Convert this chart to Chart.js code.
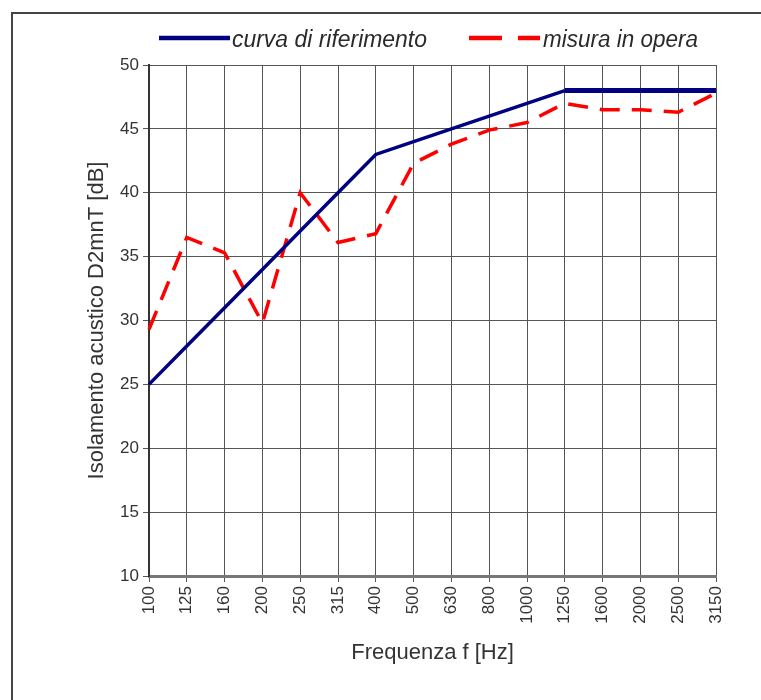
<!DOCTYPE html>
<html>
<head>
<meta charset="utf-8">
<script src="https://cdn.jsdelivr.net/npm/chart.js@4/dist/chart.umd.min.js"></script>
<style>
  html, body { margin: 0; padding: 0; background: #fff; }
  #wrap { position: relative; width: 761px; height: 700px; }
  #frame { position: absolute; left: 11px; top: 12px; right: -5px; bottom: -5px;
           border-top: 2px solid #444; border-left: 2px solid #444; pointer-events: none; }
</style>
</head>
<body>
<div id="wrap">
  <canvas id="chart" width="761" height="700"></canvas>
  <div id="frame"></div>
</div>
<script>
// frequency bands (Hz)
const frequencies = ["100", "125", "160", "200", "250", "315", "400", "500",
  "630", "800", "1000", "1250", "1600", "2000", "2500", "3150"];

// reference curve (dB)
const curvaRiferimento = [25, 28, 31, 34, 37, 40, 43, 44, 45, 46, 47, 48, 48, 48, 48, 48];

const misuraInOpera = [29.3, 36.5, 35.3, 29.8, 40.0, 36.1, 36.8, 42.3, 43.8, 44.9, 45.5, 47.0, 46.5, 46.5, 46.3, 47.8];

const yTicks = [10, 15, 20, 25, 30, 35, 40, 45, 50];

const FONT = "Liberation Sans, Arial, sans-serif";

// legend drawn by hand so the dashed sample looks like the original
const legendPlugin = {
  id: "manualLegend",
  afterDraw(chart) {
    const c = chart.ctx;
    const ds = chart.data.datasets;
    const items = [
      { x0: 159, x1: 230, tx: 232, maxW: 195 },
      { x0: 469, x1: 540, tx: 543, maxW: 155 },
    ];
    const y = 38;
    c.save();
    items.forEach((it, i) => {
      const d = ds[i];
      c.beginPath();
      c.strokeStyle = d.borderColor;
      c.lineWidth = 4.5;
      c.setLineDash(d.borderDash ? [33, 16] : []);
      c.moveTo(it.x0, y);
      c.lineTo(it.x1, y);
      c.stroke();
      c.setLineDash([]);
      c.fillStyle = "#2a2a2a";
      c.font = "italic 23px " + FONT;
      c.textBaseline = "alphabetic";
      c.fillText(d.label, it.tx, y + 9, it.maxW);
    });
    c.restore();
  },
};

const ctx = document.getElementById("chart").getContext("2d");

new Chart(ctx, {
  type: "line",
  data: {
    labels: frequencies,
    datasets: [
      {
        label: "curva di riferimento",
        data: curvaRiferimento,
        borderColor: "#000080",
        backgroundColor: "#000080",
        borderWidth: 3.5,
        pointRadius: 0,
        tension: 0,
        segment: {
          // flat top part is drawn heavier in the original
          borderWidth: (c) => (c.p0.parsed.y === c.p1.parsed.y ? 5 : 3.5),
        },
      },
      {
        label: "misura in opera",
        data: misuraInOpera,
        borderColor: "#ff0000",
        backgroundColor: "#ff0000",
        borderWidth: 3.5,
        borderDash: [20, 12],
        pointRadius: 0,
        tension: 0,
      },
    ],
  },
  plugins: [legendPlugin],
  options: {
    responsive: false,
    animation: false,
    layout: { padding: { left: 80, right: 45, top: 65, bottom: 30 } },
    plugins: {
      tooltip: { enabled: false },
      legend: { display: false },
    },
    scales: {
      x: {
        grid: { color: "#555", lineWidth: 1, tickLength: 6, offset: false },
        border: { color: "#777", width: 3 },
        offset: false,
        ticks: {
          color: "#333",
          minRotation: 90,
          maxRotation: 90,
          autoSkip: false,
          padding: 4,
          font: { family: FONT, size: 17 },
        },
        title: {
          display: true,
          text: "Frequenza f [Hz]",
          color: "#333",
          padding: { top: 8 },
          font: { family: FONT, size: 22 },
        },
        afterFit: (s) => { s.height = 94; },
      },
      y: {
        min: 10,
        max: 50,
        afterBuildTicks: (s) => { s.ticks = yTicks.map((v) => ({ value: v })); },
        grid: { color: "#555", lineWidth: 1, tickLength: 6 },
        border: { color: "#333", width: 2 },
        ticks: {
          color: "#333",
          padding: 4,
          font: { family: FONT, size: 17 },
        },
        title: {
          display: true,
          text: "Isolamento acustico D2mnT [dB]",
          color: "#333",
          font: { family: FONT, size: 22 },
        },
        afterFit: (s) => { s.width = 69; },
      },
    },
  },
});
</script>
</body>
</html>
